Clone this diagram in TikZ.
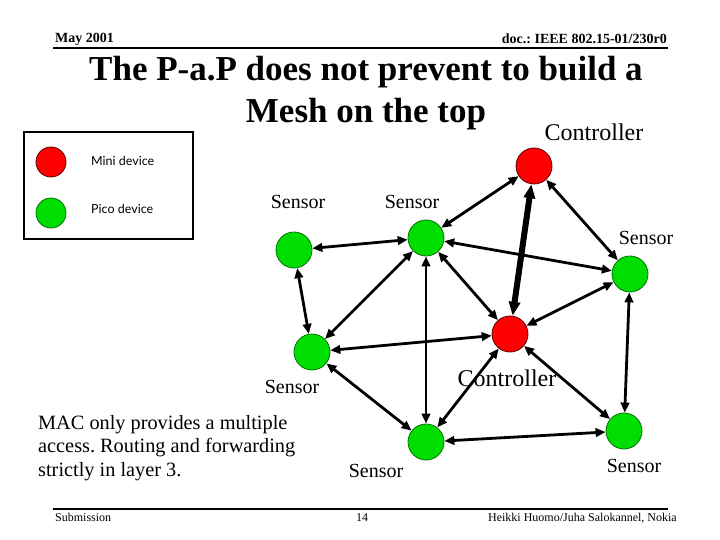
\documentclass[tikz,border=0pt]{standalone}
\usepackage{fontspec}
\setmainfont{Liberation Serif}
\newfontfamily\legendfont{Lato}
\usetikzlibrary{arrows.meta}
\definecolor{grn}{HTML}{00DD00}
\definecolor{rd}{HTML}{FF0000}
\frenchspacing
\begin{document}
\begin{tikzpicture}[x=1pt,y=-1pt,
  pico/.style={circle,draw=black!55!green,fill=grn,line width=0.8pt,minimum size=36pt,inner sep=0pt},
  mini/.style={circle,draw=black!65!red,fill=rd,line width=0.8pt,minimum size=36pt,inner sep=0pt},
  link/.style={{Triangle[length=10pt,width=8.5pt]}-{Triangle[length=10pt,width=8.5pt]},line width=2.8pt},
  biglink/.style={{Triangle[length=14pt,width=11pt]}-{Triangle[length=14pt,width=11pt]},line width=6pt},
  lbl/.style={inner sep=0pt,font=\fontsize{20}{24}\selectfont},
  ctl/.style={inner sep=0pt,font=\fontsize{24}{28}\selectfont},
  legendtxt/.style={inner sep=0pt,anchor=west,font=\legendfont\fontsize{12.5}{15}\selectfont},
  body/.style={inner sep=0pt,anchor=base west,font=\fontsize{20.3}{24}\selectfont},
  hdr/.style={inner sep=0pt,font=\bfseries\fontsize{14}{16}\selectfont},
  ftr/.style={inner sep=0pt,font=\fontsize{12}{14}\selectfont},
  ttl/.style={inner sep=0pt,font=\bfseries\fontsize{35}{40}\selectfont}
]
\useasboundingbox[fill=white] (0,0) rectangle (720,540);

% header / footer
\node[hdr,anchor=base west] (date) at (55,43) {May 2001};
\node[hdr,anchor=base east] (doc) at (667,44) {doc.: IEEE 802.15-01/230r0};
\draw[line width=2pt] (53,48) -- (668,48);
\draw[line width=2pt] (53,509) -- (668,509);
\node[ftr,anchor=base west] (sub) at (55,521) {Submission};
\node[ftr,anchor=base] (pg) at (362,521) {14};
\node[ftr,anchor=base east] (auth) at (677,521) {Heikki Huomo/Juha Salokannel, Nokia};

% title
\node[ttl] (t1) at (366,72) {The P-a.P does not prevent to build a};
\node[ttl] (t2) at (366,114) {Mesh on the top};

% legend
\draw[line width=2.5pt] (24,132) rectangle (193,239);
\node[mini,minimum size=30pt] (lm) at (51,162) {};
\node[pico,minimum size=30pt] (lp) at (51,213) {};
\node[legendtxt] (lmt) at (91,161) {Mini device};
\node[legendtxt] (lpt) at (91,209) {Pico device};

% network nodes
\node[mini] (c1) at (534,166) {};
\node[pico] (s1) at (294,250) {};
\node[pico] (s2) at (426,238) {};
\node[pico] (s3) at (630,274) {};
\node[pico] (s4) at (312,352) {};
\node[mini] (c2) at (510,334) {};
\node[pico] (s5) at (426,442) {};
\node[pico] (s6) at (624,431) {};

% links
\draw[link] (c1) -- (s2);
\draw[link] (c1) -- (s3);
\draw[link] (s1) -- (s2);
\draw[link] (s2) -- (s3);
\draw[link] (s1) -- (s4);
\draw[link] (s4) -- (s2);
\draw[link] (s2) -- (s5);
\draw[link] (s2) -- (c2);
\draw[biglink] (c1) -- (c2);
\draw[link] (c2) -- (s3);
\draw[link] (s3) -- (s6);
\draw[link] (c2) -- (s4);
\draw[link] (s4) -- (s5);
\draw[link] (c2) -- (s5);
\draw[link] (c2) -- (s6);
\draw[link] (s5) -- (s6);

% labels
\node[ctl] (lc1) at (594,132) {Controller};
\node[ctl] (lc2) at (507,378) {Controller};
\node[lbl] (l1) at (298,202) {Sensor};
\node[lbl] (l2) at (412,202) {Sensor};
\node[lbl] (l3) at (646,238) {Sensor};
\node[lbl] (l4) at (292,387) {Sensor};
\node[lbl] (l5) at (376,471) {Sensor};
\node[lbl] (l6) at (634,466) {Sensor};

% body text
\node[body] (b1) at (38,429) {MAC only provides a multiple};
\node[body] (b2) at (38,452.5) {access. Routing and forwarding};
\node[body] (b3) at (38,476) {strictly in layer 3.};
\end{tikzpicture}
\end{document}
